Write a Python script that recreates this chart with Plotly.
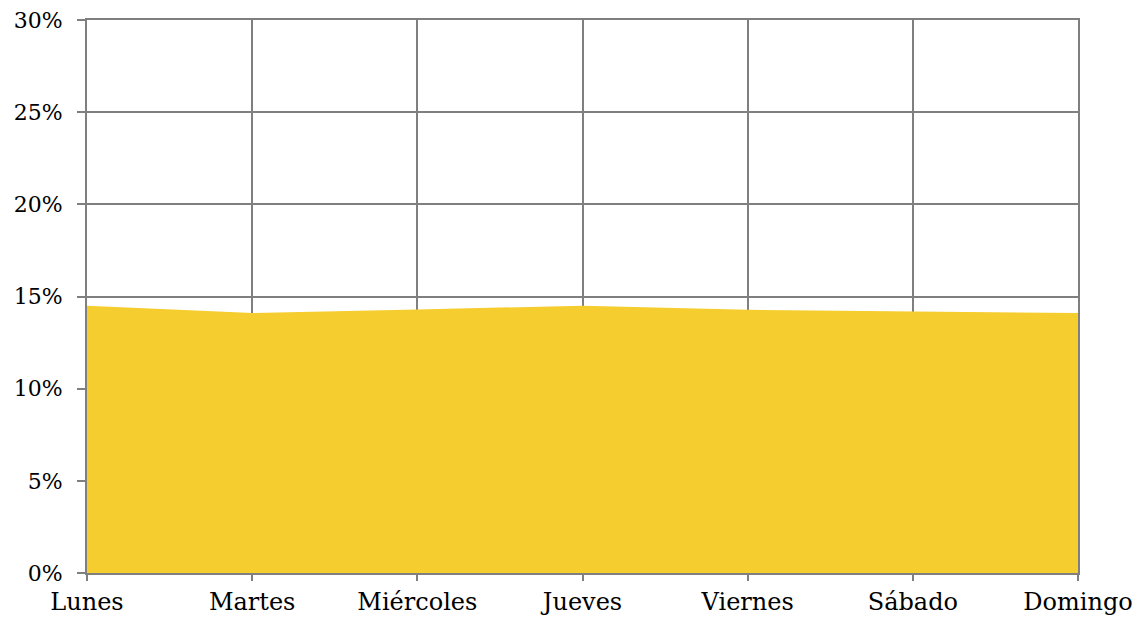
import plotly.graph_objects as go

dias = ["Lunes", "Martes", "Miércoles", "Jueves", "Viernes", "Sábado", "Domingo"]
valores = [14.5, 14.1, 14.3, 14.5, 14.28, 14.2, 14.1]
y_ticks = [0, 5, 10, 15, 20, 25, 30]
y_labels = [f"{v}%" for v in y_ticks]

fig = go.Figure()
fig.add_trace(go.Scatter(
    x=dias, y=valores, mode="lines", fill="tozeroy",
    line=dict(width=0, color="#F5CD2E"), fillcolor="#F5CD2E",
    hoverinfo="skip", showlegend=False,
))

grid = "#7F7F7F"
fig.update_layout(
    width=1124, height=607,
    margin=dict(l=79, r=54, t=12, b=42, autoexpand=False),
    paper_bgcolor="white", plot_bgcolor="white",
    font=dict(family="DejaVu Serif", size=22, color="#000000"),
    xaxis=dict(
        type="category", range=[0, 6], automargin=False,
        showgrid=True, gridcolor=grid, gridwidth=2,
        showline=True, linecolor=grid, linewidth=2, mirror=True,
        ticks="outside", ticklen=6, tickcolor=grid, tickwidth=2,
        tickfont=dict(size=24), zeroline=False, ticklabeloverflow="allow",
    ),
    yaxis=dict(
        range=[0, 30], tickvals=y_ticks, ticktext=y_labels, automargin=False,
        showgrid=True, gridcolor=grid, gridwidth=2,
        showline=True, linecolor=grid, linewidth=2, mirror=True,
        ticks="outside", ticklen=8, tickcolor=grid, tickwidth=2,
        tickfont=dict(size=22), zeroline=False, ticklabeloverflow="allow",
        ticklabelstandoff=10,
    ),
)
fig.write_html("out.html")
